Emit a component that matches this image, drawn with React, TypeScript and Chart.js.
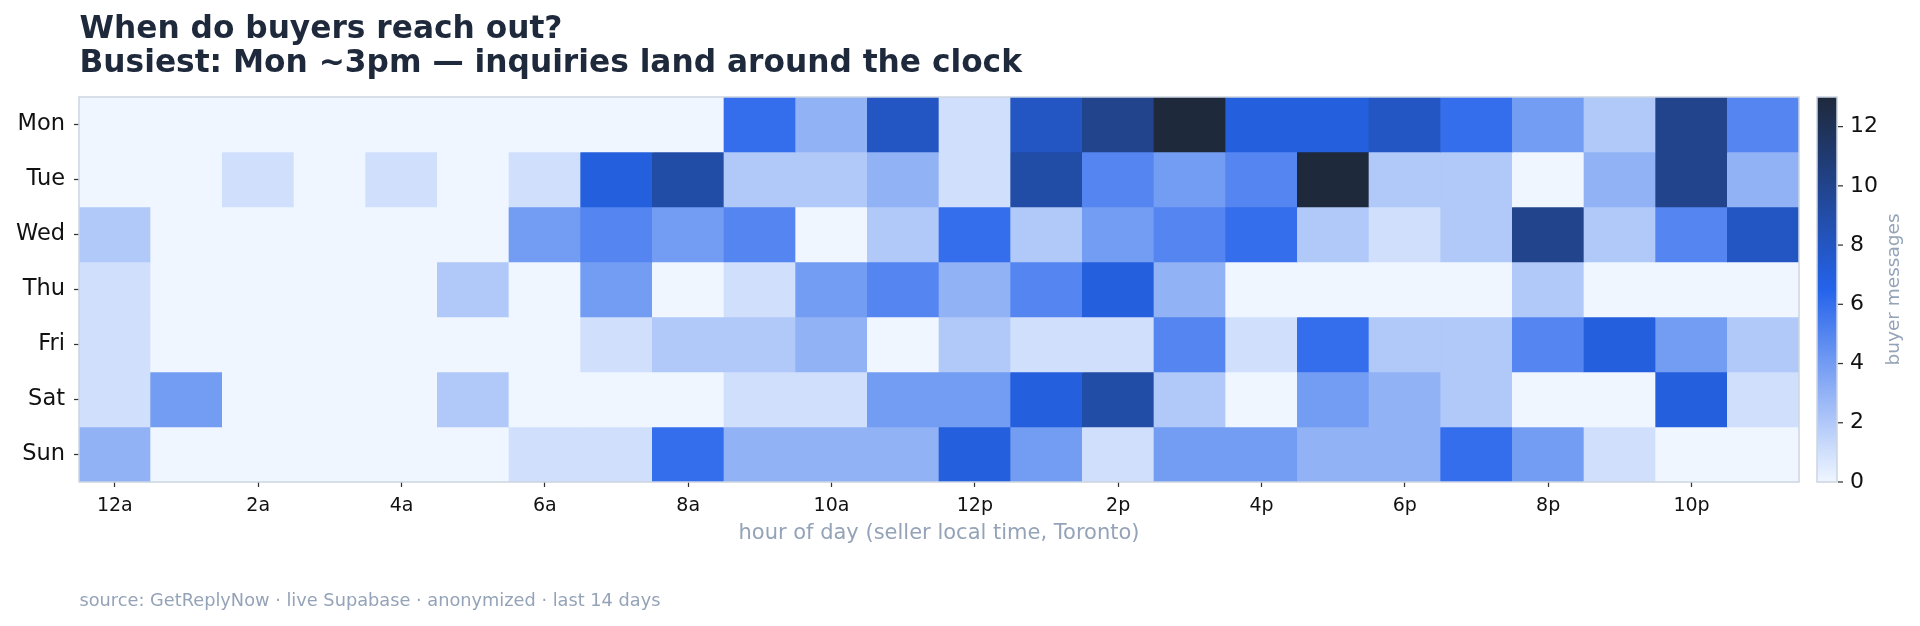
import { useEffect, useRef } from 'react';
import { Chart, registerables } from 'chart.js';

Chart.register(...registerables);

const FONT = "'DejaVu Sans', sans-serif";

const titleLines = ['When do buyers reach out?', 'Busiest: Mon ~3pm — inquiries land around the clock'];
const xAxisTitle = 'hour of day (seller local time, Toronto)';
const colorbarTitle = 'buyer messages';
const footerText = 'source: GetReplyNow · live Supabase · anonymized · last 14 days';

const days = ['Mon', 'Tue', 'Wed', 'Thu', 'Fri', 'Sat', 'Sun'];
const hourLabels = ['12a', '1a', '2a', '3a', '4a', '5a', '6a', '7a', '8a', '9a', '10a', '11a', '12p', '1p', '2p', '3p', '4p', '5p', '6p', '7p', '8p', '9p', '10p', '11p'];

// buyer messages per hour (12a .. 11p)
const monValues = [0, 0, 0, 0, 0, 0, 0, 0, 0, 6, 3, 8, 1, 8, 10, 13, 7, 7, 8, 6, 4, 2, 10, 5];
const tueValues = [0, 0, 1, 0, 1, 0, 1, 7, 9, 2, 2, 3, 1, 9, 5, 4, 5, 13, 2, 2, 0, 3, 10, 3];
const wedValues = [2, 0, 0, 0, 0, 0, 4, 5, 4, 5, 0, 2, 6, 2, 4, 5, 6, 2, 1, 2, 10, 2, 5, 8];
const thuValues = [1, 0, 0, 0, 0, 2, 0, 4, 0, 1, 4, 5, 3, 5, 7, 3, 0, 0, 0, 0, 2, 0, 0, 0];
const friValues = [1, 0, 0, 0, 0, 0, 0, 1, 2, 2, 3, 0, 2, 1, 1, 5, 1, 6, 2, 2, 5, 7, 4, 2];
const satValues = [1, 4, 0, 0, 0, 2, 0, 0, 0, 1, 1, 4, 4, 7, 9, 2, 0, 4, 3, 2, 0, 0, 7, 1];
const sunValues = [3, 0, 0, 0, 0, 0, 1, 1, 6, 3, 3, 3, 7, 4, 1, 4, 4, 3, 3, 6, 4, 1, 0, 0];

const dayValues = [monValues, tueValues, wedValues, thuValues, friValues, satValues, sunValues];

const colorbarTicks = [0, 2, 4, 6, 8, 10, 12];
const colorMin = 0;
const colorMax = 13;
const colorStops = ['#eff6ff', '#2563eb', '#1e293b'];

function hexToRgb(h: string): number[] {
  const n = parseInt(h.slice(1), 16);
  return [(n >> 16) & 255, (n >> 8) & 255, n & 255];
}

function colorFor(v: number): string {
  const t = Math.max(0, Math.min(1, (v - colorMin) / (colorMax - colorMin)));
  const seg = t * (colorStops.length - 1);
  const i = Math.min(Math.floor(seg), colorStops.length - 2);
  const f = seg - i;
  const a = hexToRgb(colorStops[i]);
  const b = hexToRgb(colorStops[i + 1]);
  const c = a.map((av, k) => Math.round(av + (b[k] - av) * f));
  return `rgb(${c[0]}, ${c[1]}, ${c[2]})`;
}

const decorPlugin = {
  id: 'decor',
  afterDatasetsDraw(chart: any) {
    const { ctx, chartArea } = chart;
    const { left, top, right, bottom } = chartArea;
    ctx.save();
    // plot frame
    ctx.strokeStyle = '#cbd5e1';
    ctx.lineWidth = 1.5;
    ctx.strokeRect(left, top, right - left, bottom - top);
    ctx.restore();
  },
  afterDraw(chart: any) {
    const { ctx, chartArea } = chart;
    const cb = chart.scales.cb;
    ctx.save();

    // title
    ctx.fillStyle = '#1e293b';
    ctx.font = `bold 31.25px ${FONT}`;
    ctx.textAlign = 'left';
    ctx.textBaseline = 'alphabetic';
    ctx.fillText(titleLines[0], chartArea.left + 0.5, 38);
    ctx.fillText(titleLines[1], chartArea.left + 0.5, 72);

    // footer
    ctx.fillStyle = '#94a3b8';
    ctx.font = `17.75px ${FONT}`;
    ctx.fillText(footerText, chartArea.left + 0.5, 606);

    // colorbar
    const cbLeft = 1817;
    const cbWidth = 20;
    const yTop = cb.getPixelForValue(colorMax);
    const yBot = cb.getPixelForValue(colorMin);
    const grad = ctx.createLinearGradient(0, yBot, 0, yTop);
    colorStops.forEach((c, i) => grad.addColorStop(i / (colorStops.length - 1), c));
    ctx.fillStyle = grad;
    ctx.fillRect(cbLeft, yTop, cbWidth, yBot - yTop);
    ctx.strokeStyle = '#cbd5e1';
    ctx.lineWidth = 1.5;
    ctx.strokeRect(cbLeft, yTop, cbWidth, yBot - yTop);

    ctx.strokeStyle = '#333';
    ctx.lineWidth = 1.25;
    ctx.fillStyle = '#111';
    ctx.font = `22px ${FONT}`;
    ctx.textBaseline = 'middle';
    ctx.textAlign = 'left';
    colorbarTicks.forEach((v) => {
      const y = cb.getPixelForValue(v);
      ctx.beginPath();
      ctx.moveTo(cbLeft + cbWidth + 1, y);
      ctx.lineTo(cbLeft + cbWidth + 6, y);
      ctx.stroke();
      ctx.fillText(String(v), 1850, y);
    });

    // colorbar label
    ctx.save();
    ctx.translate(1894, (yTop + yBot) / 2);
    ctx.rotate(-Math.PI / 2);
    ctx.fillStyle = '#94a3b8';
    ctx.font = `18.5px ${FONT}`;
    ctx.textAlign = 'center';
    ctx.textBaseline = 'middle';
    ctx.fillText(colorbarTitle, 0, 0);
    ctx.restore();

    ctx.restore();
  },
};

export default function App() {
  const ref = useRef<HTMLCanvasElement>(null);

  useEffect(() => {
    if (!ref.current) return;
    const datasets = dayValues.map((vals, d) => ({
      label: days[d],
      data: vals.map(() => [d - 0.5, d + 0.5]),
      backgroundColor: vals.map((v) => colorFor(v)),
      borderWidth: 0,
      barPercentage: 1,
      categoryPercentage: 1,
      grouped: false,
      xAxisID: 'x',
      yAxisID: 'y',
    }));

    const chart = new Chart(ref.current, {
      type: 'bar',
      data: { labels: hourLabels, datasets: datasets as any },
      options: {
        responsive: false,
        maintainAspectRatio: false,
        animation: false,
        devicePixelRatio: 1,
        layout: { padding: { left: 0, right: 121, top: 97, bottom: 74 } },
        plugins: {
          legend: { display: false },
          tooltip: { enabled: false },
          title: { display: false },
        },
        scales: {
          x: {
            type: 'category',
            offset: true,
            border: { display: false },
            grid: {
              display: true,
              drawOnChartArea: false,
              drawTicks: true,
              tickLength: 5,
              offset: false,
              tickWidth: 1.25,
              tickColor: (c: any) => (c.index % 2 === 0 ? '#333' : 'rgba(0,0,0,0)'),
            },
            ticks: {
              autoSkip: false,
              maxRotation: 0,
              minRotation: 0,
              padding: 8,
              color: '#111',
              font: { family: FONT, size: 19 },
              callback: (_v: any, i: number) => (i % 2 === 0 ? hourLabels[i] : ''),
            },
            title: {
              display: true,
              text: xAxisTitle,
              color: '#94a3b8',
              font: { family: FONT, size: 21 },
              padding: { top: 0, bottom: 6 },
            },
            afterFit: (s: any) => {
              s.height = 70;
            },
          },
          y: {
            type: 'linear',
            min: -0.5,
            max: 6.5,
            reverse: true,
            border: { display: false },
            afterBuildTicks: (s: any) => {
              s.ticks = days.map((_, i) => ({ value: i }));
            },
            grid: {
              display: true,
              drawOnChartArea: false,
              drawTicks: true,
              tickLength: 5,
              tickWidth: 1.25,
              tickColor: '#333',
            },
            ticks: {
              padding: 9,
              color: '#111',
              font: { family: FONT, size: 22.5 },
              callback: (v: any) => days[v as number] ?? '',
            },
            afterFit: (s: any) => {
              s.width = 79;
            },
          },
          cb: {
            type: 'linear',
            position: 'right',
            display: false,
            min: colorMin,
            max: colorMax,
          },
        },
      } as any,
      plugins: [decorPlugin],
    });
    return () => chart.destroy();
  }, []);

  return (
    <div style={{ position: 'absolute', left: 0, top: 0, width: 1920, height: 626, background: '#ffffff' }}>
      <canvas ref={ref} width={1920} height={626} style={{ display: 'block', width: 1920, height: 626 }} />
    </div>
  );
}
